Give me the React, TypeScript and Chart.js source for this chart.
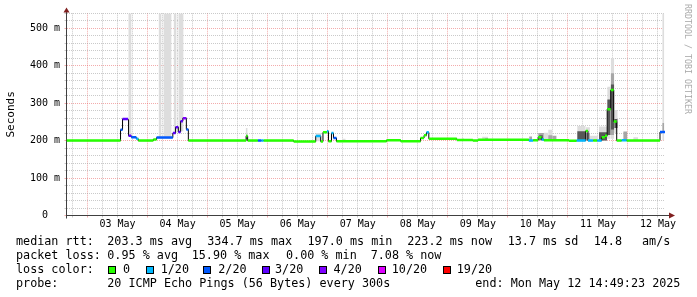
import React, { useEffect, useRef } from "react";
import { Chart, registerables } from "chart.js";

Chart.register(...registerables);

const MONO = "'DejaVu Sans Mono', 'Liberation Mono', monospace";

// ---- time axis: hours since 2025-05-02 00:00 ----
const timeMin = 15.6;
const timeMax = 254.8;
const dayTickHours = [36, 60, 84, 108, 132, 156, 180, 204, 228, 252];
const dayTickLabels = ["03 May", "04 May", "05 May", "06 May", "07 May", "08 May", "09 May", "10 May", "11 May", "12 May"];

// ---- value axis (milliseconds) ----
const yMax = 540;
const yLabelValues = [0, 100, 200, 300, 400, 500];
const yLabelTexts = ["  0  ", "100 m", "200 m", "300 m", "400 m", "500 m"];

// ---- median rtt, step segments: start hour, value (ms), loss class ----
const medStart = [15.6, 37.2, 38.0, 40.2, 40.4, 41.5, 43.5, 44.3, 50.3, 51.6, 58.1, 59.2, 60.3, 61.2, 62.1, 63.5, 64.3, 87.4, 88.0, 92.1, 93.5, 94.4, 106.4, 115.2, 117.2, 118.1, 119.7, 120.3, 121.5, 122.3, 123.5, 143.5, 149.2, 157.1, 158.5, 159.5, 160.4, 171.6, 178.0, 180.1, 200.4, 202.1, 204.1, 205.5, 206.4, 216.4, 219.5, 223.1, 224.0, 226.1, 227.7, 229.5, 230.8, 231.7, 233.1, 234.3, 235.5, 237.5, 239.5, 252.8];
const medValue = [200, 229, 258, 255, 213, 209, 205, 200, 203, 208, 220, 236, 223, 252, 260, 230, 200, 212, 200, 200, 200, 200, 197.5, 212, 197.5, 222, 225, 198, 220, 207, 198, 201, 198, 207, 214, 222, 205, 201.5, 200, 202, 200, 201, 209, 203, 201, 199.5, 200, 226, 200, 200.5, 200, 209, 213, 284, 335, 251, 200, 201, 200, 223];
const medLoss = [0, 2, 3, 3, 3, 2, 1, 0, 0, 2, 3, 3, 3, 3, 4, 2, 0, 0, 0, 2, 1, 0, 0, 1, 0, 0, 1, 0, 1, 2, 0, 0, 0, 0, 0, 1, 0, 0, 0, 0, 1, 0, 0, 1, 0, 0, 1, 0, 1, 0, 1, 0, 0, 0, 0, 0, 0, 1, 0, 2];

// ---- smoke blocks: start hour, end hour, low, high (ms), shade (0 light, 1 mid, 2 dark) ----
const smokeStart = [40.3, 52.4, 54.3, 58.4, 60.3, 87.2, 87.2, 115.2, 125.9, 173.5, 181.7, 182.9, 200.5, 204.1, 204.5, 206.4, 208.1, 208.1, 209.7, 219.7, 219.7, 223.1, 223.1, 224.8, 228.4, 228.4, 231.7, 231.7, 233.1, 233.1, 233.1, 234.5, 234.5, 238.1, 242.1, 253.7, 253.7];
const smokeEnd = [41.6, 53.6, 57.6, 59.6, 62.4, 88.0, 88.0, 117.5, 127.2, 174.4, 184.1, 184.1, 201.7, 206.4, 206.0, 208.1, 209.7, 209.7, 211.5, 223.1, 223.1, 224.8, 224.8, 228.1, 231.7, 231.7, 233.1, 233.1, 234.5, 234.5, 234.5, 235.9, 235.9, 239.7, 244.1, 254.5, 254.5];
const smokeLow = [211, 208, 208, 220, 225, 216, 204, 198, 200, 200, 200, 200, 200, 200, 202, 200, 200, 200, 200, 200, 200, 200, 200, 200, 200, 200, 205, 215, 205, 215, 230, 220, 234, 200, 200, 200, 220];
const smokeHigh = [540, 540, 540, 540, 540, 234, 216, 220, 205, 207, 210, 206, 211, 220, 214, 221, 229, 214, 213, 239, 225, 236, 220, 213, 238, 222, 344, 310, 420, 380, 350, 282, 258, 224, 209, 540, 247];
const smokeShade = [0, 0, 0, 0, 0, 0, 1, 0, 0, 0, 0, 1, 1, 1, 2, 0, 0, 1, 1, 0, 2, 0, 1, 0, 0, 2, 0, 2, 0, 1, 2, 0, 2, 1, 0, 0, 1];
const shadeColors = ["#dddddd", "#a6a6a6", "#575757"];

// ---- loss legend ----
const lossColors = ["#26ff00", "#00b8ff", "#0059ff", "#5e00ff", "#7e00ff", "#dd00ff", "#ff0000"];
const lossLabels = ["0", "1/20", "2/20", "3/20", "4/20", "10/20", "19/20"];

// ---- legend texts ----
const medianStats = ["203.3 ms avg", "334.7 ms max", "197.0 ms min", "223.2 ms now", "13.7 ms sd", "14.8", "am/s"];
const lossStats = ["0.95 % avg", "15.90 % max", "0.00 % min", "7.08 % now"];
const probeText = "20 ICMP Echo Pings (56 Bytes) every 300s";
const endText = "end: Mon May 12 14:49:23 2025";
const watermark = "RRDTOOL / TOBI OETIKER";

const MINOR = "rgba(150,150,150,0.5)";
const MAJOR = "rgba(232,90,90,0.5)";
const AXIS = "#404040";
const ARROW = "#802020";

type P = { x: number; y: number | null };

function blockPoints(starts: number[], ends: number[], vals: number[]): P[] {
  const pts: P[] = [];
  for (let i = 0; i < starts.length; i++) {
    pts.push({ x: starts[i], y: vals[i] }, { x: ends[i], y: vals[i] }, { x: ends[i], y: null });
  }
  return pts;
}

function buildDatasets() {
  const ds: any[] = [];
  // smoke, lightest first (drawn underneath)
  for (let shade = 0; shade < shadeColors.length; shade++) {
    const idx = smokeStart.map((_, i) => i).filter((i) => smokeShade[i] === shade);
    const s = idx.map((i) => smokeStart[i]);
    const e = idx.map((i) => smokeEnd[i]);
    ds.push({
      data: blockPoints(s, e, idx.map((i) => smokeHigh[i])),
      fill: "+1",
      backgroundColor: shadeColors[shade],
      borderColor: "rgba(0,0,0,0)",
      borderWidth: 0,
      pointRadius: 0,
      order: 10 - shade,
    });
    ds.push({
      data: blockPoints(s, e, idx.map((i) => smokeLow[i])),
      fill: false,
      borderColor: "rgba(0,0,0,0)",
      borderWidth: 0,
      pointRadius: 0,
      order: 10 - shade,
    });
  }
  // thin black median (shows the vertical transitions)
  const medPts: P[] = medStart.map((s, i) => ({ x: s, y: medValue[i] }));
  medPts.push({ x: timeMax, y: medValue[medValue.length - 1] });
  ds.push({
    data: medPts,
    stepped: true,
    borderColor: "#000000",
    borderWidth: 1,
    pointRadius: 0,
    fill: false,
    order: 2,
  });
  // coloured median by packet loss
  const medEnd = medStart.map((_, i) => (i + 1 < medStart.length ? medStart[i + 1] : timeMax));
  ds.push({
    data: blockPoints(medStart, medEnd, medValue),
    borderColor: lossColors[0],
    borderWidth: 2.5,
    borderCapStyle: "butt",
    pointRadius: 0,
    fill: false,
    order: 1,
    segment: {
      borderColor: (ctx: any) => lossColors[medLoss[Math.floor(ctx.p0DataIndex / 3)]],
    },
  });
  return ds;
}

const gridHours: number[] = [];
for (let h = 18; h <= 252; h += 6) gridHours.push(h);
const gridMs: number[] = [];
for (let v = 0; v <= yMax; v += 20) gridMs.push(v);

const arrowPlugin = {
  id: "rrdArrows",
  afterDraw(chart: any) {
    const { ctx, chartArea } = chart;
    const ax = Math.round(chartArea.left - 0.5) + 0.5;
    const ay = Math.round(chartArea.bottom - 0.5) + 0.5;
    ctx.save();
    ctx.strokeStyle = AXIS;
    ctx.lineWidth = 1;
    ctx.beginPath();
    ctx.moveTo(chartArea.right, ay);
    ctx.lineTo(669, ay);
    ctx.moveTo(ax, chartArea.top);
    ctx.lineTo(ax, 11);
    ctx.moveTo(ax, ay);
    ctx.lineTo(ax, ay + 3);
    ctx.stroke();
    ctx.fillStyle = ARROW;
    ctx.beginPath();
    ctx.moveTo(669, ay - 3);
    ctx.lineTo(675, ay);
    ctx.lineTo(669, ay + 3);
    ctx.closePath();
    ctx.fill();
    ctx.beginPath();
    ctx.moveTo(ax - 3, 12.5);
    ctx.lineTo(ax, 7.5);
    ctx.lineTo(ax + 3, 12.5);
    ctx.closePath();
    ctx.fill();
    ctx.restore();
  },
};

export default function App() {
  const ref = useRef<HTMLCanvasElement | null>(null);

  useEffect(() => {
    const canvas = ref.current;
    if (!canvas) return;
    const chart = new Chart(canvas, {
      type: "line",
      data: { datasets: buildDatasets() },
      options: {
        animation: false,
        responsive: false,
        devicePixelRatio: 1,
        events: [],
        layout: { padding: { top: 13.3, right: 32, bottom: 61.5, left: 0 } },
        plugins: { legend: { display: false }, tooltip: { enabled: false } },
        scales: {
          x: {
            type: "linear",
            min: timeMin,
            max: timeMax,
            afterBuildTicks: (s: any) => {
              s.ticks = gridHours.map((v) => ({ value: v }));
            },
            afterFit: (s: any) => {
              s.height = 20;
            },
            ticks: {
              autoSkip: false,
              maxRotation: 0,
              minRotation: 0,
              padding: 1,
              color: "#000",
              font: { family: MONO, size: 10 },
              callback: (v: any) => {
                const i = dayTickHours.indexOf(Number(v));
                return i >= 0 ? dayTickLabels[i] : "";
              },
            },
            grid: {
              color: (c: any) => (c.tick && c.tick.value % 24 === 0 ? MAJOR : MINOR),
              lineWidth: 1,
              tickLength: 2,
            },
            border: { display: true, color: AXIS, width: 1, dash: [1, 1] },
          },
          y: {
            type: "linear",
            min: 0,
            max: yMax,
            afterBuildTicks: (s: any) => {
              s.ticks = gridMs.map((v) => ({ value: v }));
            },
            afterFit: (s: any) => {
              s.width = 66.5;
            },
            title: {
              display: true,
              text: "Seconds",
              color: "#000",
              font: { family: MONO, size: 11 },
              padding: { top: 4.2, bottom: 0 },
            },
            ticks: {
              autoSkip: false,
              padding: 4.5,
              color: "#000",
              font: { family: MONO, size: 10 },
              callback: (v: any) => {
                const i = yLabelValues.indexOf(Number(v));
                return i >= 0 ? yLabelTexts[i] : "";
              },
            },
            grid: {
              color: (c: any) => (c.tick && c.tick.value % 100 === 0 ? MAJOR : MINOR),
              lineWidth: 1,
              tickLength: 2,
            },
            border: { display: true, color: AXIS, width: 1, dash: [1, 1] },
          },
        },
      },
      plugins: [arrowPlugin],
    } as any);
    return () => chart.destroy();
  }, []);

  const txt = (left: number, top: number, s: string, key: string) => (
    <span
      key={key}
      style={{ position: "absolute", left, top, fontSize: 11.75, lineHeight: "14px", whiteSpace: "pre" }}
    >
      {s}
    </span>
  );

  const medX = [107.3, 207.3, 307.5, 407.2, 507.7, 593.7, 642];
  const lossX = [107.3, 191.7, 286, 370.7];
  const boxX = [108.3, 146, 203.3, 261.7, 319.3, 377.5, 442.8];
  const boxLabelX = [123, 160.7, 218.3, 275, 333.5, 391.8, 456.8];

  return (
    <div
      style={{
        position: "fixed",
        left: 0,
        top: 0,
        width: 697,
        height: 297,
        background: "#ffffff",
        color: "#000",
        fontFamily: MONO,
        overflow: "hidden",
      }}
    >
      <canvas ref={ref} width={697} height={297} style={{ position: "absolute", left: 0, top: 0 }} />
      {txt(16, 234, "median rtt:", "m0")}
      {medianStats.map((s, i) => txt(medX[i], 234, s, "m" + (i + 1)))}
      {txt(16, 248, "packet loss:", "p0")}
      {lossStats.map((s, i) => txt(lossX[i], 248, s, "p" + (i + 1)))}
      {txt(16, 262, "loss color:", "l0")}
      {lossColors.map((c, i) => (
        <span
          key={"b" + i}
          style={{
            position: "absolute",
            left: boxX[i],
            top: 265.5,
            width: 6,
            height: 6,
            border: "1px solid #000",
            background: c,
          }}
        />
      ))}
      {lossLabels.map((s, i) => txt(boxLabelX[i], 262, s, "ll" + i))}
      {txt(16, 276, "probe:", "q0")}
      {txt(107.3, 276, probeText, "q1")}
      {txt(475.3, 276, endText, "q2")}
      <span
        style={{
          position: "absolute",
          left: 691.5,
          top: 4,
          fontSize: 8.3,
          lineHeight: "9px",
          color: "#aaaaaa",
          whiteSpace: "pre",
          transform: "rotate(90deg)",
          transformOrigin: "0 0",
        }}
      >
        {watermark}
      </span>
    </div>
  );
}
